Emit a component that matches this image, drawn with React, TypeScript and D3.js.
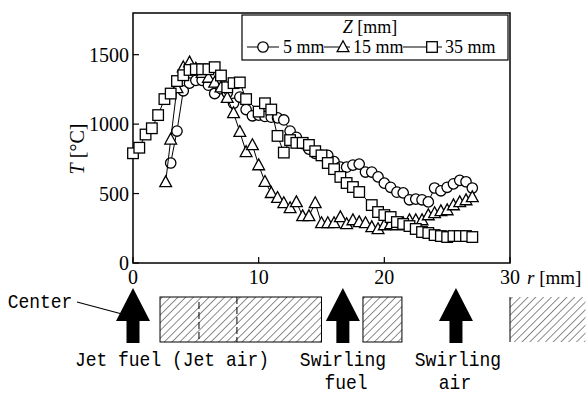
import React from "react";
import * as d3 from "d3";

// ---- data ----
const r5 = [3.0,3.5,4.0,4.5,5.0,5.5,6.0,6.5,7.0,7.5,8.0,8.5,9.0,9.5,10.0,10.5,11.0,11.5,12.0,12.5,13.0,13.5,14.0,14.5,15.0,15.5,16.0,16.5,17.0,17.5,18.0,18.5,19.0,19.5,20.0,20.5,21.0,21.5,22.0,22.5,23.0,23.5,24.0,24.5,25.0,25.5,26.0,26.5,27.0];
const t5 = [720,950,1240,1295,1315,1315,1280,1220,1255,1225,1150,1195,1105,1060,1065,1055,1050,1045,1030,950,905,860,820,790,775,775,730,690,690,705,712,655,655,620,575,545,510,505,455,460,455,440,540,520,545,570,595,585,540];

const r15 = [2.6,3.0,3.5,4.0,4.5,5.0,5.5,6.0,6.5,7.0,7.5,8.0,8.5,9.0,9.5,10.0,10.5,11.0,11.5,12.0,12.5,13.0,13.5,14.0,14.5,15.0,15.5,16.0,16.5,17.0,17.5,18.0,18.5,19.0,19.5,20.0,20.5,21.0,21.5,22.0,22.5,23.0,23.5,24.0,24.5,25.0,25.5,26.0,26.5,27.0];
const t15 = [583,890,1260,1410,1445,1400,1370,1335,1300,1265,1190,1080,945,800,850,705,585,505,470,432,396,439,338,338,432,288,288,288,331,281,309,295,288,259,245,273,281,273,288,309,309,309,345,360,374,381,417,439,453,475];

const r35 = [0,0.5,1.0,1.5,2.0,2.5,3.0,3.5,4.0,4.5,5.0,5.5,6.0,6.5,7.0,7.5,8.0,8.5,9.0,10.0,10.5,11.0,11.5,12.0,12.5,13.0,13.5,14.0,14.5,15.0,15.5,16.0,16.5,17.0,17.5,18.0,19.0,19.5,20.0,20.5,21.0,21.5,22.0,22.5,23.0,23.5,24.0,24.5,25.0,25.5,26.0,26.5,27.0];
const t35 = [790,830,925,970,1065,1180,1220,1310,1352,1390,1395,1395,1395,1410,1350,1265,1295,1300,1180,1090,1150,1105,915,795,885,865,865,850,805,775,720,676,620,576,547,511,417,367,345,331,295,281,266,245,223,216,201,194,187,194,194,194,187];

const xTicks = [0, 10, 20, 30];
const yTicks = [0, 500, 1000, 1500];
const legendLabels = ["5 mm", "15 mm", "35 mm"];
// schematic positions (r, mm)
const arrowR = [0, 16.7, 25.7];
const wallA = [2.15, 15.0];
const wallDash = [5.25, 8.27];
const wallB = [18.3, 21.4];
const wallC = [30, 36];

const W = 586, H = 394;
const x = d3.scaleLinear().domain([0, 30]).range([133, 510]);
const y = d3.scaleLinear().domain([0, 1800]).range([263, 13]);

const serif = "Liberation Serif, Times New Roman, serif";
const mono = "Liberation Mono, monospace";

function Marker({ type, cx, cy }: { type: string; cx: number; cy: number }) {
  const st = { fill: "white", stroke: "black", strokeWidth: 1.3 };
  if (type === "circle") return <circle cx={cx} cy={cy} r={5.2} {...st} />;
  if (type === "square") return <rect x={cx - 5.3} y={cy - 5.3} width={10.6} height={10.6} {...st} />;
  const s = 6.2;
  return <path d={`M${cx},${cy - s}L${cx + s * 0.95},${cy + s * 0.75}L${cx - s * 0.95},${cy + s * 0.75}Z`} {...st} />;
}

function Series({ rs, ts, type }: { rs: number[]; ts: number[]; type: string }) {
  const pts: [number, number][] = rs.map((r, i) => [x(r), y(ts[i])]);
  const line = d3.line()(pts) || "";
  return (
    <g>
      <path d={line} fill="none" stroke="black" strokeWidth={1} />
      {pts.map((p, i) => <Marker key={i} type={type} cx={p[0]} cy={p[1]} />)}
    </g>
  );
}

function Arrow({ cx }: { cx: number }) {
  const tip = 288, base = 321, bottom = 343, hw = 17, sw = 6.5;
  const d = `M${cx},${tip}L${cx + hw},${base}L${cx + sw},${base}L${cx + sw},${bottom}L${cx - sw},${bottom}L${cx - sw},${base}L${cx - hw},${base}Z`;
  return <path d={d} fill="black" />;
}

function MonoText({ tx, ty, children }: { tx: number; ty: number; children: React.ReactNode }) {
  const k = 1.15;
  return (
    <text x={tx} y={ty} textAnchor="middle" fontFamily={mono} fontSize={18}
      transform={`translate(0,${ty - k * ty}) scale(1,${k})`}>{children}</text>
  );
}

export default function App() {
  const top = 297, bot = 342;
  return (
    <svg width={W} height={H} style={{ position: "absolute", left: 0, top: 0, background: "white" }}>
      <defs>
        <pattern id="hatch" patternUnits="userSpaceOnUse" width={5.5} height={5.5} patternTransform="rotate(45)">
          <line x1={0} y1={0} x2={0} y2={5.5} stroke="black" strokeWidth={0.9} />
        </pattern>
      </defs>
      <rect width={W} height={H} fill="white" />

      {/* frame */}
      <rect x={133} y={13} width={377} height={250} fill="none" stroke="black" strokeWidth={1.5} />
      {yTicks.map((t) => (
        <g key={"y" + t}>
          <line x1={133} x2={139} y1={y(t)} y2={y(t)} stroke="black" strokeWidth={1.2} />
          <text x={129} y={y(t) + 7} textAnchor="end" fontFamily={serif} fontSize={20}>{t}</text>
        </g>
      ))}
      {xTicks.map((t) => (
        <g key={"x" + t}>
          <line x1={x(t)} x2={x(t)} y1={263} y2={257} stroke="black" strokeWidth={1.2} />
          <text x={x(t)} y={284} textAnchor="middle" fontFamily={serif} fontSize={20}>{t}</text>
        </g>
      ))}
      <text x={527} y={284} fontFamily={serif} fontSize={19}>
        <tspan fontStyle="italic">r</tspan> [mm]
      </text>
      <text transform="translate(84,149) rotate(-90)" textAnchor="middle" fontFamily={serif} fontSize={20}>
        <tspan fontStyle="italic">T</tspan> [°C]
      </text>

      {/* series */}
      <Series rs={r5} ts={t5} type="circle" />
      <Series rs={r15} ts={t15} type="triangle" />
      <Series rs={r35} ts={t35} type="square" />

      {/* legend */}
      <rect x={242} y={15} width={266} height={45} fill="white" stroke="black" strokeWidth={1.2} />
      <text x={370} y={33} textAnchor="middle" fontFamily={serif} fontSize={18}>
        <tspan fontStyle="italic">Z</tspan> [mm]
      </text>
      {[
        { type: "circle", x1: 247, x2: 279, cx: 263, tx: 283 },
        { type: "triangle", x1: 324, x2: 350, cx: 343, tx: 353 },
        { type: "square", x1: 403, x2: 442, cx: 432, tx: 445 },
      ].map((e, i) => (
        <g key={i}>
          <line x1={e.x1} x2={e.x2} y1={47} y2={47} stroke="black" strokeWidth={1} />
          <Marker type={e.type} cx={e.cx} cy={47} />
          <text x={e.tx} y={53} fontFamily={serif} fontSize={18}>{legendLabels[i]}</text>
        </g>
      ))}

      {/* schematic */}
      <rect x={x(wallA[0])} y={top} width={x(wallA[1]) - x(wallA[0])} height={bot - top} fill="url(#hatch)" stroke="black" strokeWidth={1} />
      {wallDash.map((r, i) => (
        <line key={i} x1={x(r)} x2={x(r)} y1={i === 0 ? 302 : top} y2={bot} stroke="black" strokeWidth={1} strokeDasharray="7,3" />
      ))}
      <rect x={x(wallB[0])} y={top} width={x(wallB[1]) - x(wallB[0])} height={bot - top} fill="url(#hatch)" stroke="black" strokeWidth={1} />
      <rect x={x(wallC[0])} y={top} width={x(wallC[1]) - x(wallC[0])} height={bot - top} fill="url(#hatch)" />
      <line x1={x(wallC[0])} x2={x(wallC[0])} y1={top} y2={bot} stroke="black" strokeWidth={1} />

      {arrowR.map((r, i) => <Arrow key={i} cx={x(r)} />)}

      <MonoText tx={40} ty={308}>Center</MonoText>
      <line x1={77} y1={302} x2={122} y2={314} stroke="black" strokeWidth={1.2} />

      <MonoText tx={172} ty={366}>Jet fuel (Jet air)</MonoText>
      <MonoText tx={343} ty={366}>Swirling</MonoText>
      <MonoText tx={346} ty={389}>fuel</MonoText>
      <MonoText tx={458} ty={366}>Swirling</MonoText>
      <MonoText tx={455} ty={389}>air</MonoText>
    </svg>
  );
}
